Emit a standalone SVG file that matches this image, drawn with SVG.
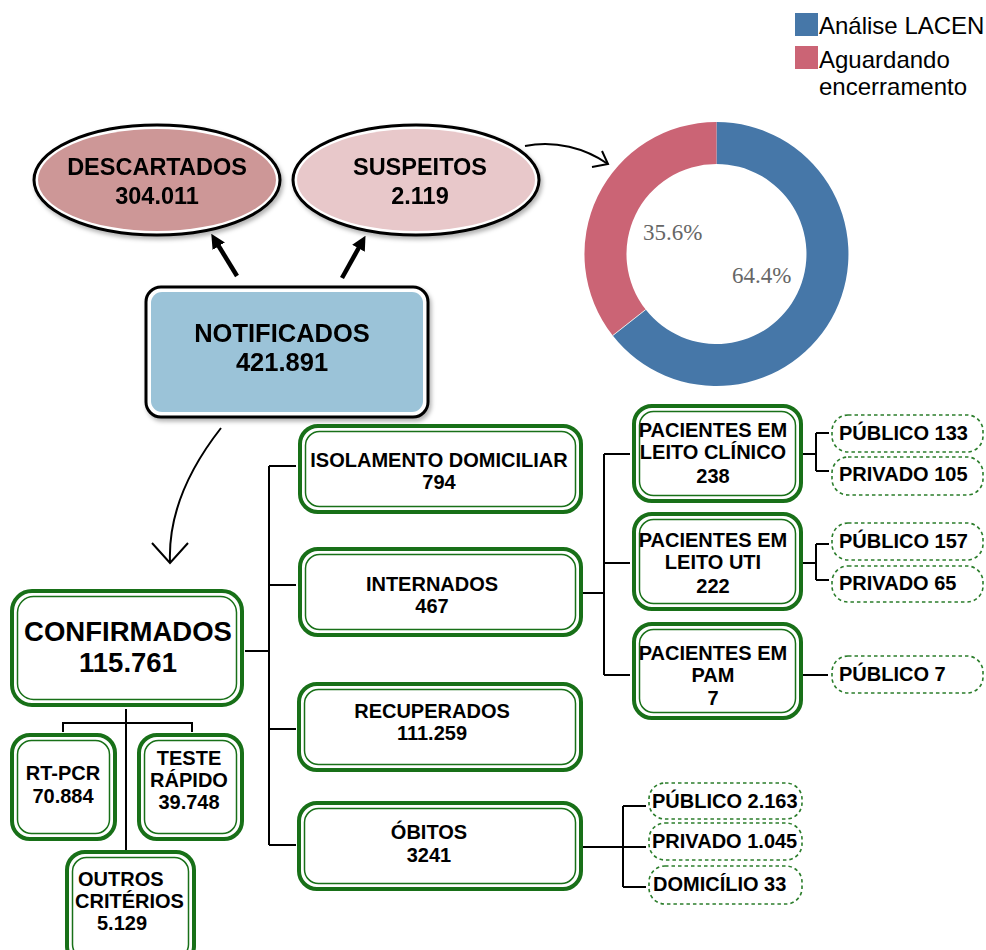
<svg xmlns="http://www.w3.org/2000/svg" width="986" height="950" viewBox="0 0 986 950">
<defs>
  <filter id="sh" x="-10%" y="-10%" width="125%" height="130%">
    <feDropShadow dx="2" dy="3" stdDeviation="2" flood-color="#000" flood-opacity="0.3"/>
  </filter>
  <marker id="fat" viewBox="0 0 10 10" refX="5" refY="5" markerWidth="3.2" markerHeight="3.2" orient="auto">
    <path d="M0,0 L10,5 L0,10 z" fill="#000"/>
  </marker>
</defs>
<style>
  text { font-family: "Liberation Sans", Arial, sans-serif; font-weight: bold; fill: #000; }
  .c { text-anchor: middle; }
  .g1 { fill: #fff; stroke: #187018; stroke-width: 4; }
  .g2 { fill: none; stroke: #187018; stroke-width: 1.5; }
  .dash { fill: #fff; stroke: #2b7d2b; stroke-width: 1.6; stroke-dasharray: 3.5 3; }
  .ln { fill: none; stroke: #000; stroke-width: 2; }
  .f19 { font-size: 20px; }
  .pct { font-family: "Liberation Serif", "Times New Roman", serif; font-weight: normal; font-size: 23px; fill: #666; }
  .leg { font-weight: normal; font-size: 24px; }
</style>

<!-- Legend -->
<g id="legend">
  <rect x="795" y="13" width="23" height="23" fill="#4677a8"/>
  <text class="leg" x="819" y="34">Análise LACEN</text>
  <rect x="795" y="46" width="23" height="23" fill="#cb6475"/>
  <text class="leg" x="819" y="68">Aguardando</text>
  <text class="leg" x="819" y="95">encerramento</text>
</g>

<!-- Donut -->
<g id="donut">
  <path d="M716.5,122 A132,132 0 1 1 612.7,335.6 L645.7,309.6 A90,90 0 1 0 716.5,164 Z" fill="#4677a8"/>
  <path d="M612.7,335.6 A132,132 0 0 1 716.5,122 L716.5,164 A90,90 0 0 0 645.7,309.6 Z" fill="#cb6475"/>
  <line x1="612.7" y1="335.6" x2="645.7" y2="309.6" stroke="#e6e6e6" stroke-width="1"/>
  <text class="pct" x="643" y="240">35.6%</text>
  <text class="pct" x="732" y="283">64.4%</text>
</g>

<!-- Connectors -->
<g id="connectors">
  <line x1="237" y1="276" x2="215" y2="240" stroke="#000" stroke-width="4.5" marker-end="url(#fat)"/>
  <line x1="342" y1="278" x2="362" y2="242" stroke="#000" stroke-width="4.5" marker-end="url(#fat)"/>
  <path class="ln" d="M525,146 C555,140 585,148 608,164"/>
  <path class="ln" d="M602,151 L608,164 L592,167"/>
  <path class="ln" d="M221,428 C192,465 168,510 170,562"/>
  <path class="ln" d="M152,543 L170,563 L188,543"/>
  <!-- confirmados tree -->
  <path class="ln" d="M245,651 H269 M269,466 V845 M269,466 H296 M269,585 H296 M269,729 H296 M269,845 H296"/>
  <!-- internados -->
  <path class="ln" d="M583,593 H604 M604,454 V675 M604,454 H630 M604,563 H630 M604,675 H630"/>
  <path class="ln" d="M802,454 H816 M816,433 V471 M816,433 H829 M816,471 H829"/>
  <path class="ln" d="M802,563 H816 M816,544 V580 M816,544 H829 M816,580 H829"/>
  <path class="ln" d="M802,675 H828"/>
  <!-- obitos -->
  <path class="ln" d="M583,847 H646 M623,806 V887 M623,806 H646 M623,887 H646"/>
  <!-- confirmation criteria -->
  <path class="ln" d="M126,709 V850 M63,732 V723 H192 V732"/>
</g>

<!-- Ellipses -->
<g id="descartados" filter="url(#sh)">
  <ellipse cx="157" cy="180" rx="123" ry="55" fill="#fff" stroke="#000" stroke-width="3"/>
  <ellipse cx="157" cy="180" rx="119" ry="51" fill="#cd9797"/>
  <text class="c" x="157" y="175" font-size="23.5">DESCARTADOS</text>
  <text class="c" x="157" y="204" font-size="23.5">304.011</text>
</g>
<g id="suspeitos" filter="url(#sh)">
  <ellipse cx="416" cy="180" rx="123" ry="55" fill="#fff" stroke="#000" stroke-width="3"/>
  <ellipse cx="416" cy="180" rx="119" ry="51" fill="#e8c8ca"/>
  <text class="c" x="420" y="175" font-size="23.5">SUSPEITOS</text>
  <text class="c" x="420" y="204" font-size="23.5">2.119</text>
</g>

<!-- Notificados -->
<g id="notificados" filter="url(#sh)">
  <rect x="146" y="287" width="282" height="130" rx="15" fill="#fff" stroke="#000" stroke-width="3"/>
  <rect x="151" y="292" width="272" height="120" rx="11" fill="#9bc3d8"/>
  <text class="c" x="282" y="342" font-size="25.5">NOTIFICADOS</text>
  <text class="c" x="282" y="371" font-size="25.5">421.891</text>
</g>

<!-- Confirmados -->
<g id="confirmados">
  <rect class="g1" x="12" y="591" width="230" height="114" rx="20"/>
  <rect class="g2" x="17.5" y="596.5" width="219" height="103" rx="16"/>
  <text class="c" x="128" y="641" font-size="27.5">CONFIRMADOS</text>
  <text class="c" x="128" y="672" font-size="27.5">115.761</text>
</g>

<g id="isolamento">
  <rect class="g1" x="300" y="426" width="281" height="86" rx="18"/>
  <rect class="g2" x="305.5" y="431.5" width="270" height="75" rx="14"/>
  <text class="c f19" x="439" y="467">ISOLAMENTO DOMICILIAR</text>
  <text class="c f19" x="439" y="489">794</text>
</g>
<g id="internados">
  <rect class="g1" x="300" y="549" width="281" height="86" rx="18"/>
  <rect class="g2" x="305.5" y="554.5" width="270" height="75" rx="14"/>
  <text class="c f19" x="432" y="591">INTERNADOS</text>
  <text class="c f19" x="432" y="613">467</text>
</g>
<g id="recuperados">
  <rect class="g1" x="299" y="684" width="282" height="86" rx="18"/>
  <rect class="g2" x="304.5" y="689.5" width="271" height="75" rx="14"/>
  <text class="c f19" x="432" y="718">RECUPERADOS</text>
  <text class="c f19" x="432" y="740">111.259</text>
</g>
<g id="obitos">
  <rect class="g1" x="299" y="803" width="282" height="86" rx="18"/>
  <rect class="g2" x="304.5" y="808.5" width="271" height="75" rx="14"/>
  <text class="c f19" x="429" y="839">ÓBITOS</text>
  <text class="c f19" x="429" y="862">3241</text>
</g>

<g id="leito-clinico">
  <rect class="g1" x="634" y="406" width="167" height="95" rx="18"/>
  <rect class="g2" x="639.5" y="411.5" width="156" height="84" rx="14"/>
  <text class="c f19" x="713" y="437">PACIENTES EM</text>
  <text class="c f19" x="713" y="459">LEITO CLÍNICO</text>
  <text class="c f19" x="713" y="483">238</text>
</g>
<g id="leito-uti">
  <rect class="g1" x="634" y="514" width="167" height="95" rx="18"/>
  <rect class="g2" x="639.5" y="519.5" width="156" height="84" rx="14"/>
  <text class="c f19" x="713" y="547">PACIENTES EM</text>
  <text class="c f19" x="713" y="569">LEITO UTI</text>
  <text class="c f19" x="713" y="593">222</text>
</g>
<g id="pam">
  <rect class="g1" x="634" y="624" width="167" height="94" rx="18"/>
  <rect class="g2" x="639.5" y="629.5" width="156" height="83" rx="14"/>
  <text class="c f19" x="713" y="660">PACIENTES EM</text>
  <text class="c f19" x="713" y="682">PAM</text>
  <text class="c f19" x="713" y="705">7</text>
</g>

<g id="publico-133"><rect class="dash" x="832" y="415" width="151" height="37" rx="16"/><text class="f19" x="839" y="440">PÚBLICO 133</text></g>
<g id="privado-105"><rect class="dash" x="832" y="457" width="151" height="38" rx="16"/><text class="f19" x="839" y="481">PRIVADO 105</text></g>
<g id="publico-157"><rect class="dash" x="832" y="523" width="151" height="37" rx="16"/><text class="f19" x="839" y="548">PÚBLICO 157</text></g>
<g id="privado-65"><rect class="dash" x="832" y="566" width="151" height="36" rx="16"/><text class="f19" x="839" y="590">PRIVADO 65</text></g>
<g id="publico-7"><rect class="dash" x="832" y="656" width="151" height="37" rx="16"/><text class="f19" x="839" y="681">PÚBLICO 7</text></g>

<g id="publico-2163"><rect class="dash" x="649" y="783" width="153" height="36" rx="16"/><text class="f19" x="652" y="808">PÚBLICO 2.163</text></g>
<g id="privado-1045"><rect class="dash" x="649" y="823" width="153" height="37" rx="16"/><text class="f19" x="652" y="848">PRIVADO 1.045</text></g>
<g id="domicilio-33"><rect class="dash" x="649" y="866" width="153" height="38" rx="16"/><text class="f19" x="653" y="891">DOMICÍLIO 33</text></g>

<g id="rt-pcr">
  <rect class="g1" x="12" y="735" width="103" height="104" rx="18"/>
  <rect class="g2" x="17.5" y="740.5" width="92" height="93" rx="14"/>
  <text class="c f19" x="63" y="780">RT-PCR</text>
  <text class="c f19" x="63" y="803">70.884</text>
</g>
<g id="teste-rapido">
  <rect class="g1" x="139" y="735" width="103" height="104" rx="18"/>
  <rect class="g2" x="144.5" y="740.5" width="92" height="93" rx="14"/>
  <text class="c f19" x="189" y="765">TESTE</text>
  <text class="c f19" x="189" y="787">RÁPIDO</text>
  <text class="c f19" x="189" y="809">39.748</text>
</g>
<g id="outros-criterios">
  <rect class="g1" x="67" y="852" width="127" height="112" rx="18"/>
  <rect class="g2" x="72.5" y="857.5" width="116" height="101" rx="14"/>
  <text class="f19" x="78" y="886">OUTROS</text>
  <text class="f19" x="75" y="908">CRITÉRIOS</text>
  <text class="f19" x="97" y="930">5.129</text>
</g>
</svg>
